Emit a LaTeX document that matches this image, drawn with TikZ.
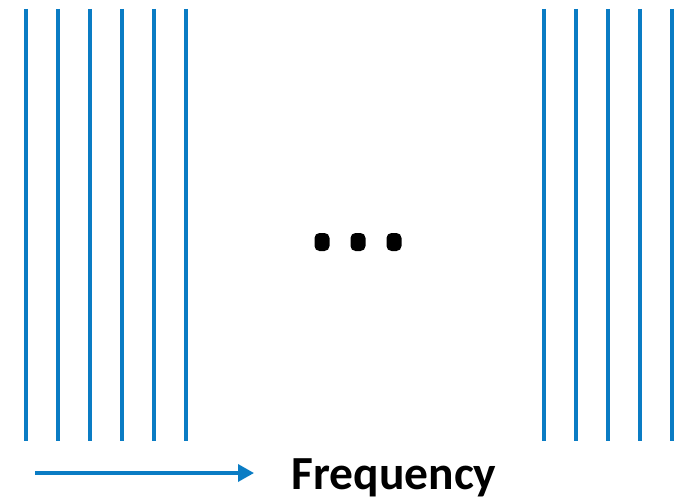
\documentclass[tikz,border=0pt]{standalone}
\usepackage{fontspec}
\setmainfont{Carlito}
\usetikzlibrary{arrows.meta,positioning}

\definecolor{specblue}{RGB}{10,124,196}

\tikzset{
    channel/.style={draw=specblue, line width=3.5pt},
    dotmark/.style={fill=black, rounded corners=5pt, minimum width=15pt, minimum height=18pt, inner sep=0pt},
    axisarrow/.style={draw=specblue, line width=3.5pt, -{Triangle[length=16pt,width=17pt]}},
}

\begin{document}
\begin{tikzpicture}[x=1pt,y=-1pt]
    \useasboundingbox (0,0) rectangle (692,500);

    % Low frequency channels
    \foreach \x in {26,58,90,122,154,186} {
        \draw[channel] (\x,9) -- (\x,441);
    }

    % High frequency channels
    \foreach \x in {544,576,608,640,672} {
        \draw[channel] (\x,9) -- (\x,441);
    }

    % Gap marker
    \node[dotmark] (dotA) at (322,242) {};
    \node[dotmark] (dotB) at (358,242) {};
    \node[dotmark] (dotC) at (394,242) {};

    % Frequency axis
    \coordinate (axisstart) at (35,473);
    \coordinate (axisend) at (254,473);
    \draw[axisarrow] (axisstart) -- (axisend);
    \node[anchor=base, font=\bfseries\fontsize{47.5}{50}\selectfont, inner sep=0pt] (freqlabel) at (394,489) {Frequency};
\end{tikzpicture}
\end{document}
